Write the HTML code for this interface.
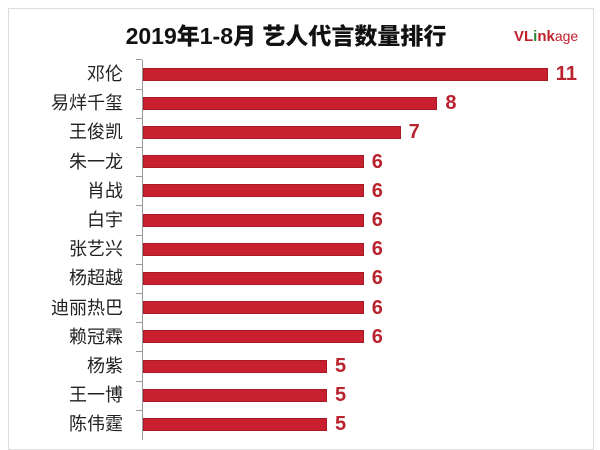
<!DOCTYPE html><html><head><meta charset="utf-8"><style>
body{margin:0;background:#fff;width:600px;height:438px;overflow:hidden;position:relative;font-family:"Liberation Sans","Noto Sans CJK SC",sans-serif}
.frame{position:absolute;left:8px;top:8px;width:584px;height:440px;border:1px solid #ddd}
.t{position:absolute;left:0;width:600px;top:17px;text-align:center;font-weight:900;font-size:23px;color:#111;padding-right:28px;box-sizing:border-box}
.logo{position:absolute;left:514px;top:28px;font-size:15px;font-weight:bold;color:#c0202c}
.logo span{color:#2a8a3a}.logo i{font-style:normal;font-weight:normal;font-size:14px;color:#c0202c}
.lab{position:absolute;right:477px;font-size:18px;color:#222;line-height:20px}
.bar{position:absolute;left:143px;height:13px;background:#c8202f;border:1px solid #a51a26;box-sizing:border-box}
.v{position:absolute;font-size:20px;font-weight:bold;color:#b8232d;line-height:20px}
.ax{position:absolute;left:142px;top:60px;width:1px;height:380px;background:#999}
.tk{position:absolute;left:136px;width:6px;height:1px;background:#999}
</style></head><body>
<div class="frame"></div>
<div class="t">2019年1-8月 艺人代言数量排行</div>
<div class="logo">VL<span>i</span>nk<i>age</i></div>
<div class="ax"></div>
<div id="c"></div>
<script>
var d=[["邓伦",11],["易烊千玺",8],["王俊凯",7],["朱一龙",6],["肖战",6],["白宇",6],["张艺兴",6],["杨超越",6],["迪丽热巴",6],["赖冠霖",6],["杨紫",5],["王一博",5],["陈伟霆",5]];
var h="";d.forEach(function(r,i){var y=74+i*29.2,w=r[1]*36.8;
h+='<div class="lab" style="top:'+(y-10)+'px">'+r[0]+'</div><div class="bar" style="top:'+(y-6.5)+'px;width:'+w+'px"></div><div class="v" style="left:'+(143+w+8)+'px;top:'+(y-10)+'px">'+r[1]+'</div><div class="tk" style="top:'+(y-14.6)+'px"></div>';});
document.getElementById("c").innerHTML=h;
</script></body></html>
